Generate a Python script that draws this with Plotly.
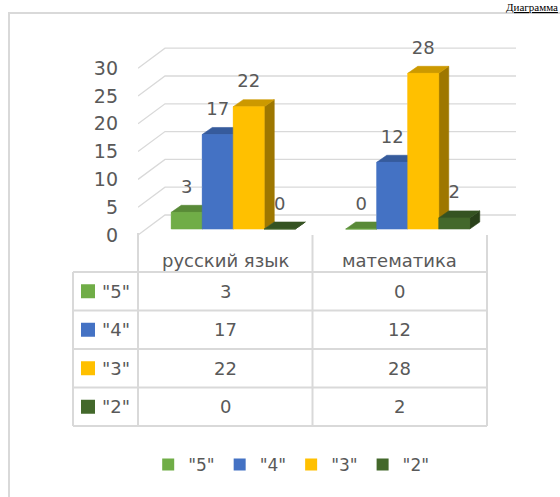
import plotly.graph_objects as go

# ---------------- data ----------------
categories = ["русский язык", "математика"]
series_names = ['"5"', '"4"', '"3"', '"2"']
values_5 = [3, 0]
values_4 = [17, 12]
values_3 = [22, 28]
values_2 = [0, 2]
series_values = [values_5, values_4, values_3, values_2]
series_colors = ["#70AD47", "#4472C4", "#FFC000", "#43682B"]
ytick_vals = [0, 5, 10, 15, 20, 25, 30]

# ---------------- geometry / style ----------------
W, H = 560, 497
FONT = "DejaVu Sans"
FS = 17
TXT = "#595959"
GRID = "#d9d9d9"

X0, Y0 = 138, 235          # front-left corner of the plot floor (px)
K = 5.56                    # px per value unit
TOP_PX = 20                 # top of plot area (px)
COLW = 174.5                # category column width (px)
WALL_DX, WALL_DY = 27, 20   # depth of the side wall (px)
BAR_W = 31                  # bar width (px)
BAR_DX, BAR_DY = 8, 6       # bar front offset from the front plane (px)
BAR_DEPTH_X, BAR_DEPTH_Y = 10, 7
GRID_RIGHT = 516            # right end of back-wall grid lines (px)


def u(px):  # px -> value units (vertical)
    return px / K


def shade(hexc, f):
    hexc = hexc.lstrip("#")
    r, g, b = (int(hexc[i:i + 2], 16) for i in (0, 2, 4))
    return "rgb(%d,%d,%d)" % (r * f, g * f, b * f)


def px2paper(x, y):
    return x / W, 1 - y / H


fig = go.Figure()
base = u(BAR_DY)
nser = len(series_names)

# bar positions
bar_centers = []
for ci in range(len(categories)):
    c = COLW * (ci + 0.5) + BAR_DX
    bar_centers.append([c + (sj - (nser - 1) / 2) * BAR_W for sj in range(nser)])

# real bars (front faces) - legend + hover
for sj, (name, vals, col) in enumerate(zip(series_names, series_values, series_colors)):
    fig.add_trace(go.Bar(
        x=[bar_centers[ci][sj] for ci in range(len(categories))],
        y=vals, base=base, width=BAR_W, name=name,
        marker=dict(color=col, line=dict(width=0)),
        customdata=categories,
        hovertemplate="%{customdata}<br>" + name + ": %{y}<extra></extra>",
    ))

# wall grid lines (behind the bars)
for t in ytick_vals:
    fig.add_trace(go.Scatter(
        x=[0, WALL_DX, GRID_RIGHT - X0],
        y=[t, t + u(WALL_DY), t + u(WALL_DY)],
        mode="lines", line=dict(color=GRID, width=1.3),
        hoverinfo="skip", showlegend=False))

# 3D bar faces (painter's order, left to right)
for ci in range(len(categories)):
    for sj, (vals, col) in enumerate(zip(series_values, series_colors)):
        v = vals[ci]
        xc = bar_centers[ci][sj]
        xl, xr = xc - BAR_W / 2, xc + BAR_W / 2
        b, t = base, base + v
        ddx, ddy = BAR_DEPTH_X, u(BAR_DEPTH_Y)
        faces = [
            ([xr, xr + ddx, xr + ddx, xr, xr], [b, b + ddy, t + ddy, t, b], shade(col, 0.62)),
            ([xl, xr, xr + ddx, xl + ddx, xl], [t, t, t + ddy, t + ddy, t], shade(col, 0.8)),
            ([xl, xr, xr, xl, xl], [b, b, t, t, b], col),
        ]
        for fx, fy, fc in faces:
            fig.add_trace(go.Scatter(
                x=fx, y=fy, fill="toself", fillcolor=fc, mode="lines",
                line=dict(color=fc, width=0.6), hoverinfo="skip", showlegend=False))

# data labels
for sj, vals in enumerate(series_values):
    fig.add_trace(go.Scatter(
        x=[bar_centers[ci][sj] for ci in range(len(categories))],
        y=[base + v + u(24) for v in vals],
        text=[str(v) for v in vals], mode="text",
        textfont=dict(family=FONT, size=FS + 1, color=TXT),
        cliponaxis=False, hoverinfo="skip", showlegend=False))

# ---------------- data table ----------------
shapes = []
annotations = []
T_TOP, T_LEFT, T_ROWS_TOP, RH = 235, 73, 272, 38.5
T_RIGHT = X0 + COLW * len(categories)
T_BOTTOM = T_ROWS_TOP + RH * nser


def line(x0, y0, x1, y1, color=GRID, width=2):
    a, b = px2paper(x0, y0)
    c, d = px2paper(x1, y1)
    shapes.append(dict(type="line", xref="paper", yref="paper", x0=a, y0=b, x1=c, y1=d,
                       line=dict(color=color, width=width), layer="below"))


for r in range(nser + 1):
    line(T_LEFT, T_ROWS_TOP + r * RH, T_RIGHT, T_ROWS_TOP + r * RH)
line(T_LEFT, T_ROWS_TOP, T_LEFT, T_BOTTOM)
line(X0, Y0 - 2, X0, T_BOTTOM)
for ci in range(1, len(categories) + 1):
    line(X0 + COLW * ci, T_TOP, X0 + COLW * ci, T_BOTTOM)


def text(x, y, s, xanchor="center", size=FS, color=TXT, family=FONT):
    a, b = px2paper(x, y)
    annotations.append(dict(x=a, y=b, xref="paper", yref="paper", text=s, showarrow=False,
                            xanchor=xanchor, yanchor="middle",
                            font=dict(family=family, size=size, color=color)))


for ci, cat in enumerate(categories):
    text(X0 + COLW * (ci + 0.5), 260, cat, size=FS + 1)
for sj, (name, vals, col) in enumerate(zip(series_names, series_values, series_colors)):
    yc = T_ROWS_TOP + RH * (sj + 0.5)
    a0, b0 = px2paper(81, yc - 7)
    a1, b1 = px2paper(95, yc + 7)
    shapes.append(dict(type="rect", xref="paper", yref="paper", x0=a0, y0=b0, x1=a1, y1=b1,
                       fillcolor=col, line=dict(width=0)))
    text(100, yc, name, xanchor="left", size=FS + 1)
    for ci, v in enumerate(vals):
        text(X0 + COLW * (ci + 0.5), yc, str(v), size=FS + 1)

# outer chart frame
shapes.append(dict(type="rect", xref="paper", yref="paper", x0=9 / W, y0=-0.05, x1=1.05,
                   y1=1 - 13 / H, line=dict(color=GRID, width=2), layer="below"))

# document text fragment at top right
annotations.append(dict(x=559 / W, y=1.0, xref="paper", yref="paper",
                        text="<u>Диаграмма</u>", showarrow=False, xanchor="right",
                        yanchor="top", borderpad=0,
                        font=dict(family="Liberation Serif", size=11, color="#000000")))

fig.update_layout(
    width=W, height=H,
    margin=dict(l=0, r=0, t=0, b=0, pad=0, autoexpand=False),
    paper_bgcolor="white", plot_bgcolor="rgba(0,0,0,0)",
    barmode="overlay",
    showlegend=True,
    legend=dict(orientation="h", x=0.52, xanchor="center", y=1 - 465 / H, yanchor="middle",
                font=dict(family=FONT, size=FS, color=TXT), bgcolor="rgba(0,0,0,0)",
                itemclick=False, itemdoubleclick=False, itemwidth=30),
    xaxis=dict(domain=[X0 / W, 1.0], range=[0, W - X0], visible=False, fixedrange=True),
    yaxis=dict(domain=[1 - Y0 / H, 1 - TOP_PX / H], range=[0, (Y0 - TOP_PX) / K],
               tickvals=ytick_vals, showgrid=False, zeroline=False, showline=False,
               ticks="", ticklabelstandoff=19, automargin=False,
               tickfont=dict(family=FONT, size=FS + 2, color=TXT), fixedrange=True),
    shapes=shapes,
    annotations=annotations,
)

fig.write_html(
    "out.html",
    config={"displayModeBar": False},
    post_script="document.body.style.margin='0';",
)
